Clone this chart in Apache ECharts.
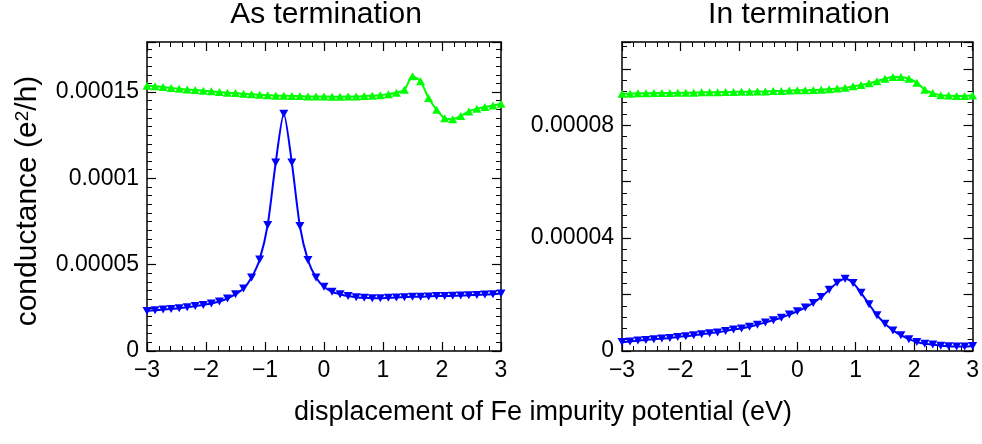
<!DOCTYPE html>
<html>
<head>
<meta charset="utf-8">
<script src="https://cdn.jsdelivr.net/npm/echarts@6/dist/echarts.min.js"></script>
<style>
html,body{margin:0;padding:0;background:#fff;}
#chart{width:982px;height:444px;}
</style>
</head>
<body>
<div id="chart"></div>
<script>
// ---------- data ----------
// sampling grid of the impurity potential displacement (eV), 45 points from -3 to 3
const xValues = [-3, -2.8636, -2.7273, -2.5909, -2.4545, -2.3182, -2.1818, -2.0455, -1.9091, -1.7727,
  -1.6364, -1.5, -1.3636, -1.2273, -1.0909, -0.9545, -0.8182, -0.6818, -0.5455, -0.4091,
  -0.2727, -0.1364, 0, 0.1364, 0.2727, 0.4091, 0.5455, 0.6818, 0.8182, 0.9545,
  1.0909, 1.2273, 1.3636, 1.5, 1.6364, 1.7727, 1.9091, 2.0455, 2.1818, 2.3182,
  2.4545, 2.5909, 2.7273, 2.8636, 3];

// As termination (units of 1e-4 e^2/h)
const asGreen = [1.537, 1.533, 1.529, 1.523, 1.519, 1.515, 1.512, 1.508, 1.504, 1.500,
  1.496, 1.494, 1.490, 1.488, 1.484, 1.482, 1.479, 1.479, 1.477, 1.477,
  1.475, 1.475, 1.475, 1.473, 1.473, 1.475, 1.475, 1.477, 1.479, 1.482,
  1.488, 1.496, 1.513, 1.591, 1.562, 1.465, 1.397, 1.349, 1.343, 1.362,
  1.388, 1.403, 1.413, 1.422, 1.432];
const asBlue = [0.232, 0.236, 0.240, 0.244, 0.248, 0.254, 0.260, 0.267, 0.275, 0.287,
  0.304, 0.329, 0.362, 0.426, 0.530, 0.730, 1.092, 1.375, 1.092, 0.724,
  0.527, 0.426, 0.372, 0.343, 0.329, 0.318, 0.312, 0.308, 0.306, 0.306,
  0.308, 0.310, 0.312, 0.314, 0.314, 0.316, 0.318, 0.318, 0.320, 0.321,
  0.323, 0.325, 0.327, 0.329, 0.333];

// In termination (units of 1e-4 e^2/h)
const inGreen = [0.912, 0.912, 0.913, 0.913, 0.914, 0.914, 0.914, 0.915, 0.915, 0.915,
  0.917, 0.917, 0.917, 0.918, 0.918, 0.919, 0.919, 0.920, 0.920, 0.921,
  0.921, 0.923, 0.924, 0.924, 0.925, 0.926, 0.928, 0.930, 0.933, 0.938,
  0.943, 0.949, 0.956, 0.965, 0.971, 0.971, 0.965, 0.951, 0.926, 0.914,
  0.906, 0.905, 0.904, 0.904, 0.905];
const inBlue = [0.032, 0.034, 0.037, 0.039, 0.042, 0.044, 0.046, 0.050, 0.052, 0.056,
  0.059, 0.063, 0.066, 0.071, 0.076, 0.080, 0.086, 0.093, 0.101, 0.109,
  0.118, 0.129, 0.141, 0.154, 0.170, 0.191, 0.217, 0.242, 0.256, 0.241,
  0.206, 0.166, 0.127, 0.097, 0.073, 0.056, 0.042, 0.032, 0.026, 0.023,
  0.019, 0.017, 0.016, 0.016, 0.018];
const unitScale = 1e-4;

// tick labels
const xTickLabels = ['\u22123', '\u22122', '\u22121', '0', '1', '2', '3'];
const asYTickLabels = ['0', '0.00005', '0.0001', '0.00015'];
const inYTickLabels = ['0', '0.00004', '0.00008'];

const panelTitles = ['As termination', 'In termination'];
const xName = 'displacement of Fe impurity potential (eV)';

// ---------- chart ----------
const FONT = '"Liberation Sans", Arial, Helvetica, sans-serif';
const chart = echarts.init(document.getElementById('chart'), null, {renderer: 'canvas'});

function pairs(vals) { return vals.map((v, i) => [xValues[i], v * unitScale]); }

const grids = [
  {left: 147, top: 42, width: 354, height: 309},
  {left: 622, top: 42, width: 353, height: 309}
];
const yCfg = [
  {max: 0.000179, major: 0.00005, minor: 0.000005, labelStep: 0.00005, labels: asYTickLabels},
  {max: 0.0001095, major: 0.00002, minor: 0.000004, labelStep: 0.00004, labels: inYTickLabels}
];

const xAxes = [], yAxes = [];
const lineStyleAxis = {show: true, onZero: false, lineStyle: {color: '#000', width: 1.5}};
grids.forEach((g, gi) => {
  ['bottom', 'top'].forEach(pos => {
    xAxes.push({
      type: 'value', gridIndex: gi, position: pos, min: -3, max: 3, interval: 1,
      axisLine: lineStyleAxis,
      axisTick: {show: true, inside: true, length: 9, lineStyle: {color: '#000', width: 1.2}},
      minorTick: {show: true, splitNumber: 5, length: 5, lineStyle: {color: '#000', width: 1}},
      splitLine: {show: false}, minorSplitLine: {show: false},
      axisLabel: {
        show: pos === 'bottom', margin: 8, fontSize: 23, color: '#000', fontFamily: FONT,
        formatter: v => xTickLabels[Math.round(v) + 3]
      }
    });
  });
  const c = yCfg[gi];
  ['left', 'right'].forEach(pos => {
    // major ticks (+ labels on the left)
    yAxes.push({
      type: 'value', gridIndex: gi, position: pos, min: 0, max: c.max, interval: c.major,
      axisLine: lineStyleAxis,
      axisTick: {show: true, inside: true, length: 9, lineStyle: {color: '#000', width: 1.2}},
      splitLine: {show: false},
      axisLabel: {
        show: pos === 'left', margin: 8, fontSize: 23, color: '#000', fontFamily: FONT,
        formatter: v => {
          const k = Math.round(v / c.labelStep);
          if (Math.abs(v - k * c.labelStep) < 1e-10 && k < c.labels.length) return c.labels[k];
          return '';
        }
      }
    });
    // minor ticks
    yAxes.push({
      type: 'value', gridIndex: gi, position: pos, min: 0, max: c.max, interval: c.minor,
      axisLine: {show: false, onZero: false},
      axisTick: {show: true, inside: true, length: 5, lineStyle: {color: '#000', width: 1}},
      splitLine: {show: false},
      axisLabel: {show: false}
    });
  });
});

function series(gi, vals, color, down) {
  return {
    type: 'line', xAxisIndex: gi * 2, yAxisIndex: gi * 4, data: pairs(vals),
    smooth: 0.25, clip: false,
    symbol: 'triangle', symbolRotate: down ? 180 : 0, symbolSize: [9, 8],
    itemStyle: {color: color},
    lineStyle: {color: color, width: 2},
    showSymbol: true, animation: false, z: 5
  };
}

const option = {
  backgroundColor: '#fff',
  animation: false,
  grid: grids.map(g => Object.assign({containLabel: false}, g)),
  xAxis: xAxes,
  yAxis: yAxes,
  series: [
    series(0, asGreen, '#00ff00', false),
    series(0, asBlue, '#0000ff', true),
    series(1, inGreen, '#00ff00', false),
    series(1, inBlue, '#0000ff', true)
  ],
  graphic: [
    {type: 'text', x: 326, y: 15, style: {text: panelTitles[0], font: '30px ' + FONT, fill: '#000', textAlign: 'center', textVerticalAlign: 'middle'}},
    {type: 'text', x: 799, y: 15, style: {text: panelTitles[1], font: '30px ' + FONT, fill: '#000', textAlign: 'center', textVerticalAlign: 'middle'}},
    {type: 'text', x: 543, y: 413, style: {text: xName, font: '27px ' + FONT, fill: '#000', textAlign: 'center', textVerticalAlign: 'middle'}},
    {type: 'text', x: 28, y: 201, rotation: Math.PI / 2,
      style: {
        text: 'conductance (e{sup|2}/h)', fill: '#000', textAlign: 'center', textVerticalAlign: 'middle',
        fontSize: 30, fontFamily: FONT,
        rich: {sup: {fontSize: 19, fontFamily: FONT, fill: '#000', verticalAlign: 'top', padding: [0, 0, 10, 0]}}
      }}
  ]
};
chart.setOption(option);
</script>
</body>
</html>
